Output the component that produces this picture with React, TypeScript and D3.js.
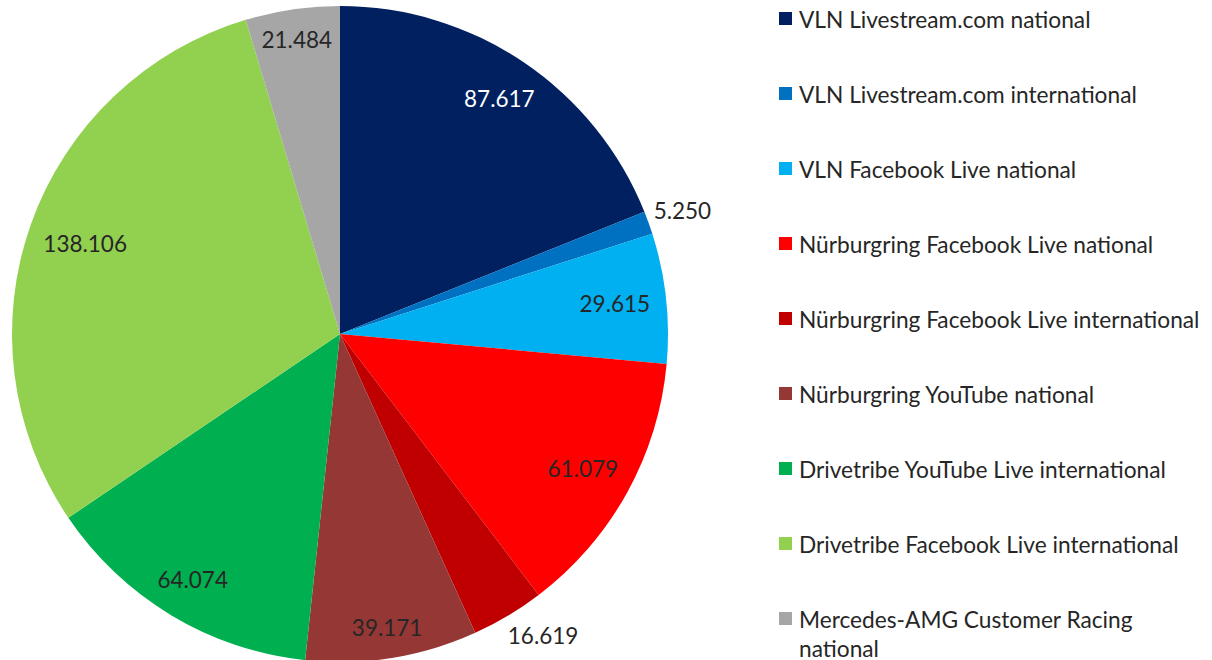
import React from "react";
import * as d3 from "d3";

const categories = [
  "VLN Livestream.com national",
  "VLN Livestream.com international",
  "VLN Facebook Live national",
  "Nürburgring Facebook Live national",
  "Nürburgring Facebook Live international",
  "Nürburgring YouTube national",
  "Drivetribe YouTube Live international",
  "Drivetribe Facebook Live international",
  "Mercedes-AMG Customer Racing national",
];
const values = [87617, 5250, 29615, 61079, 16619, 39171, 64074, 138106, 21484];
const labels = ["87.617", "5.250", "29.615", "61.079", "16.619", "39.171", "64.074", "138.106", "21.484"];
const colors = ["#002060", "#0070C0", "#00B0F0", "#FF0000", "#C00000", "#953735", "#00B050", "#92D050", "#A6A6A6"];
const labelColors = ["#FFFFFF", "#262626", "#262626", "#262626", "#262626", "#262626", "#262626", "#262626", "#262626"];

const W = 1212;
const H = 660;
const FONT = "Lato, 'Open Sans', sans-serif";

export default function App() {
  const cx = 340, cy = 334, R = 328;
  const fs = 22.5;
  const lfs = 22.7;
  const pie = d3.pie<number>().sort(null).value((d) => d);
  const arcs = pie(values);
  const arc = d3.arc<d3.PieArcDatum<number>>().innerRadius(0).outerRadius(R);

  const charW = (s: string) => s.length * fs * 0.55;
  const h = 20;

  const labelPos = (a: d3.PieArcDatum<number>, text: string) => {
    const mid = (a.startAngle + a.endAngle) / 2;
    const span = a.endAngle - a.startAngle;
    const s = Math.sin(mid), c = -Math.cos(mid);
    const w = charW(text);
    const inside = span > (15 * Math.PI) / 180;
    if (inside) {
      const target = R - 13;
      let r = 0;
      for (let t = 0; t < R; t += 0.5) {
        const fx = Math.abs(t * s) + w / 2;
        const fy = Math.abs(t * c) + h / 2;
        if (Math.hypot(fx, fy) <= target) r = t;
      }
      return { x: cx + r * s, y: cy + r * c };
    } else {
      const rr = R + 36;
      let x = cx + rr * s;
      let y = cy + rr * c;
      const maxY = H - 15 - h / 2;
      if (y > maxY) {
        y = maxY;
        const ny = y - h / 2 - cy;
        const target = R + 7;
        const nx = Math.sqrt(Math.max(0, target * target - ny * ny));
        x = cx + (s >= 0 ? nx + w / 2 : -(nx + w / 2));
      }
      return { x, y };
    }
  };

  const legendY = d3.scaleLinear().domain([0, 1]).range([19, 94]);

  return (
    <svg width={W} height={H} style={{ position: "absolute", left: 0, top: 0, background: "#fff" }} fontFamily={FONT}>
      <g transform={`translate(${cx},${cy})`}>
        {arcs.map((a, i) => (
          <path key={i} d={arc(a) || ""} fill={colors[i]} />
        ))}
      </g>
      {arcs.map((a, i) => {
        const p = labelPos(a, labels[i]);
        return (
          <text key={i} x={p.x} y={p.y} textAnchor="middle" dominantBaseline="central" fontSize={fs} fill={labelColors[i]}>
            {labels[i]}
          </text>
        );
      })}
      {categories.map((c, i) => {
        const y = legendY(i);
        const last = i === categories.length - 1;
        return (
          <g key={i}>
            <rect x={779} y={y - 7} width={13} height={13} fill={colors[i]} />
            {last ? (
              <text x={799} y={y} fontSize={lfs} fill="#262626" dominantBaseline="central">
                <tspan x={799}>Mercedes-AMG Customer Racing</tspan>
                <tspan x={799} dy={29}>national</tspan>
              </text>
            ) : (
              <text x={799} y={y} fontSize={lfs} fill="#262626" dominantBaseline="central">
                {c}
              </text>
            )}
          </g>
        );
      })}
    </svg>
  );
}
